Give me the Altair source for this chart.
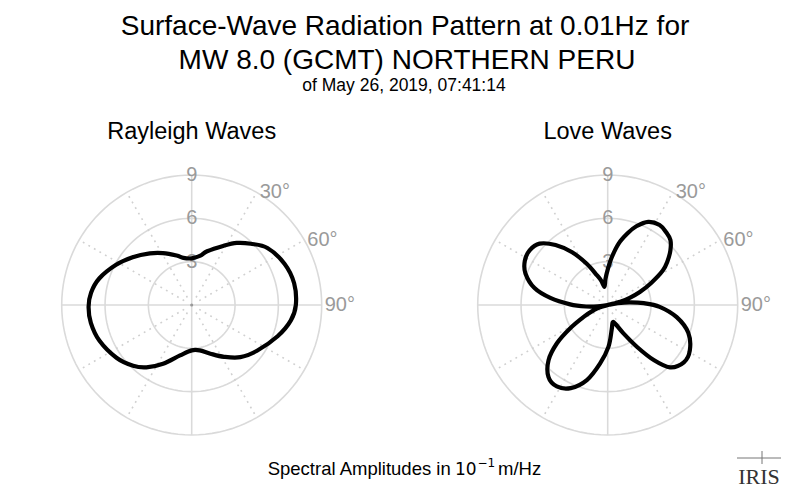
import math
import pandas as pd
import altair as alt

# ---------------- data ----------------
TITLE_LINES = ["Surface-Wave Radiation Pattern at 0.01Hz for",
               "MW 8.0 (GCMT) NORTHERN PERU"]
SUBTITLE = "of May 26, 2019, 07:41:14"
PANEL_TITLES = ["Rayleigh Waves", "Love Waves"]
RING_VALUES = [3, 6, 9]
ANGLE_TICKS = [30, 60, 90]
SOLID_SPOKES = [0, 90, 180, 270]
DOTTED_SPOKES = [30, 60, 120, 150, 210, 240, 300, 330]

RAYLEIGH_AZ = [0, 10, 16, 28, 36, 44, 53, 66, 78, 90, 99, 110, 125, 137, 148,
               159, 170, 180, 193, 206, 216, 224, 235, 249, 260, 269, 277, 286,
               298, 309, 321, 331, 343, 350]
RAYLEIGH_AMP = [3.23, 3.47, 3.87, 4.63, 5.31, 5.89, 6.56, 7.03, 7.25, 7.21,
                6.94, 6.33, 5.52, 4.94, 4.23, 3.61, 3.19, 3.14, 3.58, 4.52,
                5.33, 5.84, 6.36, 6.85, 7.09, 7.14, 7.02, 6.66, 5.93, 5.26,
                4.60, 4.11, 3.58, 3.31]

LOVE_AZ = [0, 4.5, 10, 15.5, 20, 26, 33, 39, 44, 49, 54, 58, 63, 68, 72, 75,
           77.5, 80, 83, 87, 92, 100, 109, 119, 127, 135, 140, 145, 151, 158,
           164, 171, 179, 187.5, 195.5, 204, 212, 219.5, 227, 233, 238, 244,
           250, 254, 258, 262, 266, 271, 277, 283, 291, 298, 305, 312, 319,
           326, 333, 340, 345, 350, 355]
LOVE_AMP = [2.45, 3.25, 4.3, 5.15, 5.8, 6.4, 6.6, 6.45, 6.25, 5.75, 5.1, 4.5,
            3.4, 2.4, 1.6, 0.9, 0.05, 0.7, 1.5, 2.5, 3.6, 4.85, 5.9, 6.5, 6.6,
            6.1, 5.0, 3.55, 2.25, 1.4, 1.25, 1.75, 2.9, 4.1, 5.4, 6.3, 6.65,
            6.45, 5.6, 4.4, 3.1, 1.8, 1.0, 0.55, 0.05, 0.7, 1.5, 2.6, 4.0, 5.2,
            6.1, 6.5, 6.6, 6.35, 5.5, 4.4, 3.2, 2.2, 1.75, 1.28, 1.8]

# ---------------- layout ----------------
W, H = 784, 480
K = 130 / 9.0                      # pixels per amplitude unit
CENTER_PX = [183.7, 599.7]
CY_PX = 297.0
OFFSETS = [0.0, (CENTER_PX[1] - CENTER_PX[0]) / K]
XDOM = [-CENTER_PX[0] / K, (W - CENTER_PX[0]) / K]
YDOM = [-(H - CY_PX) / K, CY_PX / K]
RMAX = max(RING_VALUES)

GRID = "#dadada"
LABEL = "#9a9a9a"
SANS = "Liberation Sans"


def polar(off, az, r):
    a = math.radians(az)
    return off + r * math.sin(a), r * math.cos(a)


xs = alt.Scale(domain=XDOM, nice=False, zero=False)
ys = alt.Scale(domain=YDOM, nice=False, zero=False)


def X(f="x"):
    return alt.X(f"{f}:Q", scale=xs, axis=None)


def Y(f="y"):
    return alt.Y(f"{f}:Q", scale=ys, axis=None)


# rings
ring_rows = []
for p, off in enumerate(OFFSETS):
    for r in RING_VALUES:
        for i, az in enumerate(range(0, 361, 3)):
            x, y = polar(off, az, r)
            ring_rows.append({"key": f"{p}-{r}", "i": i, "x": x, "y": y})
ring_df = pd.DataFrame(ring_rows)

# spokes
solid_rows, dotted_rows = [], []
for off in OFFSETS:
    for az in SOLID_SPOKES:
        x2, y2 = polar(off, az, RMAX)
        solid_rows.append({"x": off, "y": 0.0, "x2": x2, "y2": y2})
    for az in DOTTED_SPOKES:
        x1, y1 = polar(off, az, 0.6)
        x2, y2 = polar(off, az, RMAX)
        dotted_rows.append({"x": x1, "y": y1, "x2": x2, "y2": y2})
solid_df = pd.DataFrame(solid_rows)
dotted_df = pd.DataFrame(dotted_rows)

center_df = pd.DataFrame({"x": OFFSETS, "y": [0.0, 0.0]})

ring_lab_rows = []
ang_lab_rows = []
for off in OFFSETS:
    for r in RING_VALUES:
        ring_lab_rows.append({"x": off, "y": r, "t": str(r)})
    for az in ANGLE_TICKS:
        x, y = polar(off, az, RMAX)
        ang_lab_rows.append({"x": x, "y": y, "t": f"{az}°"})
ring_lab_df = pd.DataFrame(ring_lab_rows)
ang_lab_df = pd.DataFrame(ang_lab_rows)

curve_rows = []
for name, off, azs, amps in [("Rayleigh", OFFSETS[0], RAYLEIGH_AZ, RAYLEIGH_AMP),
                             ("Love", OFFSETS[1], LOVE_AZ, LOVE_AMP)]:
    for i, (az, a) in enumerate(zip(azs, amps)):
        x, y = polar(off, az, a)
        curve_rows.append({"panel": name, "i": i, "x": x, "y": y})
curve_df = pd.DataFrame(curve_rows)

panel_df = pd.DataFrame({"x": OFFSETS, "t": PANEL_TITLES})

# ---------------- layers ----------------
rings = alt.Chart(ring_df).mark_line(color=GRID, strokeWidth=1.6).encode(
    x=X(), y=Y(), detail="key:N", order="i:Q")
solid = alt.Chart(solid_df).mark_rule(color=GRID, strokeWidth=1.6).encode(
    x=X(), y=Y(), x2="x2:Q", y2="y2:Q")
dotted = alt.Chart(dotted_df).mark_rule(
    color="#d0d0d0", strokeWidth=1.6, strokeDash=[1.8, 4.6]).encode(
    x=X(), y=Y(), x2="x2:Q", y2="y2:Q")
center = alt.Chart(center_df).mark_point(
    filled=True, color="#999999", size=10, opacity=1).encode(x=X(), y=Y())
ring_labels = alt.Chart(ring_lab_df).mark_text(
    font=SANS, fontSize=20, color=LABEL, align="center", baseline="middle").encode(
    x=X(), y=Y(), text="t:N")
ang_labels = alt.Chart(ang_lab_df).mark_text(
    font=SANS, fontSize=20, color=LABEL, align="left", baseline="middle", dx=3).encode(
    x=X(), y=Y(), text="t:N")
curves = alt.Chart(curve_df).mark_line(
    color="black", strokeWidth=4.2, interpolate="cardinal-closed",
    strokeJoin="round").encode(x=X(), y=Y(), detail="panel:N", order="i:Q")
panel_titles = alt.Chart(panel_df).mark_text(
    font=SANS, fontSize=23.5, color="black", align="center", baseline="alphabetic").encode(
    x=X(), y=alt.value(131), text="t:N")


def txt(text, x, y, size, align="center", font=SANS, color="black"):
    return alt.Chart(pd.DataFrame({"t": [text]})).mark_text(
        font=font, fontSize=size, color=color, align=align,
        baseline="alphabetic").encode(x=alt.value(x), y=alt.value(y), text="t:N")


title1 = txt(TITLE_LINES[0], 397, 26.5, 28)
title2 = txt(TITLE_LINES[1], 399, 60.5, 28)
title3 = txt(SUBTITLE, 396, 83, 17.5)

foot1 = txt("Spectral Amplitudes in", 259.7, 467, 18.5, align="left")
foot2 = txt("10", 447, 467, 17, align="left", font="DejaVu Sans")
foot3 = txt("−1", 469.5, 459, 12, align="left", font="DejaVu Sans")
foot4 = txt("m/Hz", 490, 467, 18.5, align="left")

logo_line = alt.Chart(pd.DataFrame({"a": [0]})).mark_rule(
    color="#777777", strokeWidth=1).encode(
    x=alt.value(729), x2=alt.value(773), y=alt.value(450))
logo_spike = alt.Chart(pd.DataFrame({"a": [0]})).mark_rule(
    color="#777777", strokeWidth=1).encode(
    x=alt.value(754), y=alt.value(443), y2=alt.value(456))
logo = txt("IRIS", 751, 476, 22, font="Liberation Serif", color="#333333")

chart = alt.layer(
    rings, solid, dotted, center, ring_labels, ang_labels, curves,
    panel_titles, title1, title2, title3, foot1, foot2, foot3, foot4,
    logo_line, logo_spike, logo,
).properties(
    width=W, height=H, padding=0,
    autosize=alt.AutoSizeParams(type="none"),
    background="white",
).configure_view(stroke=None)

chart.save("out.html", embed_options={"renderer": "svg", "actions": False})
